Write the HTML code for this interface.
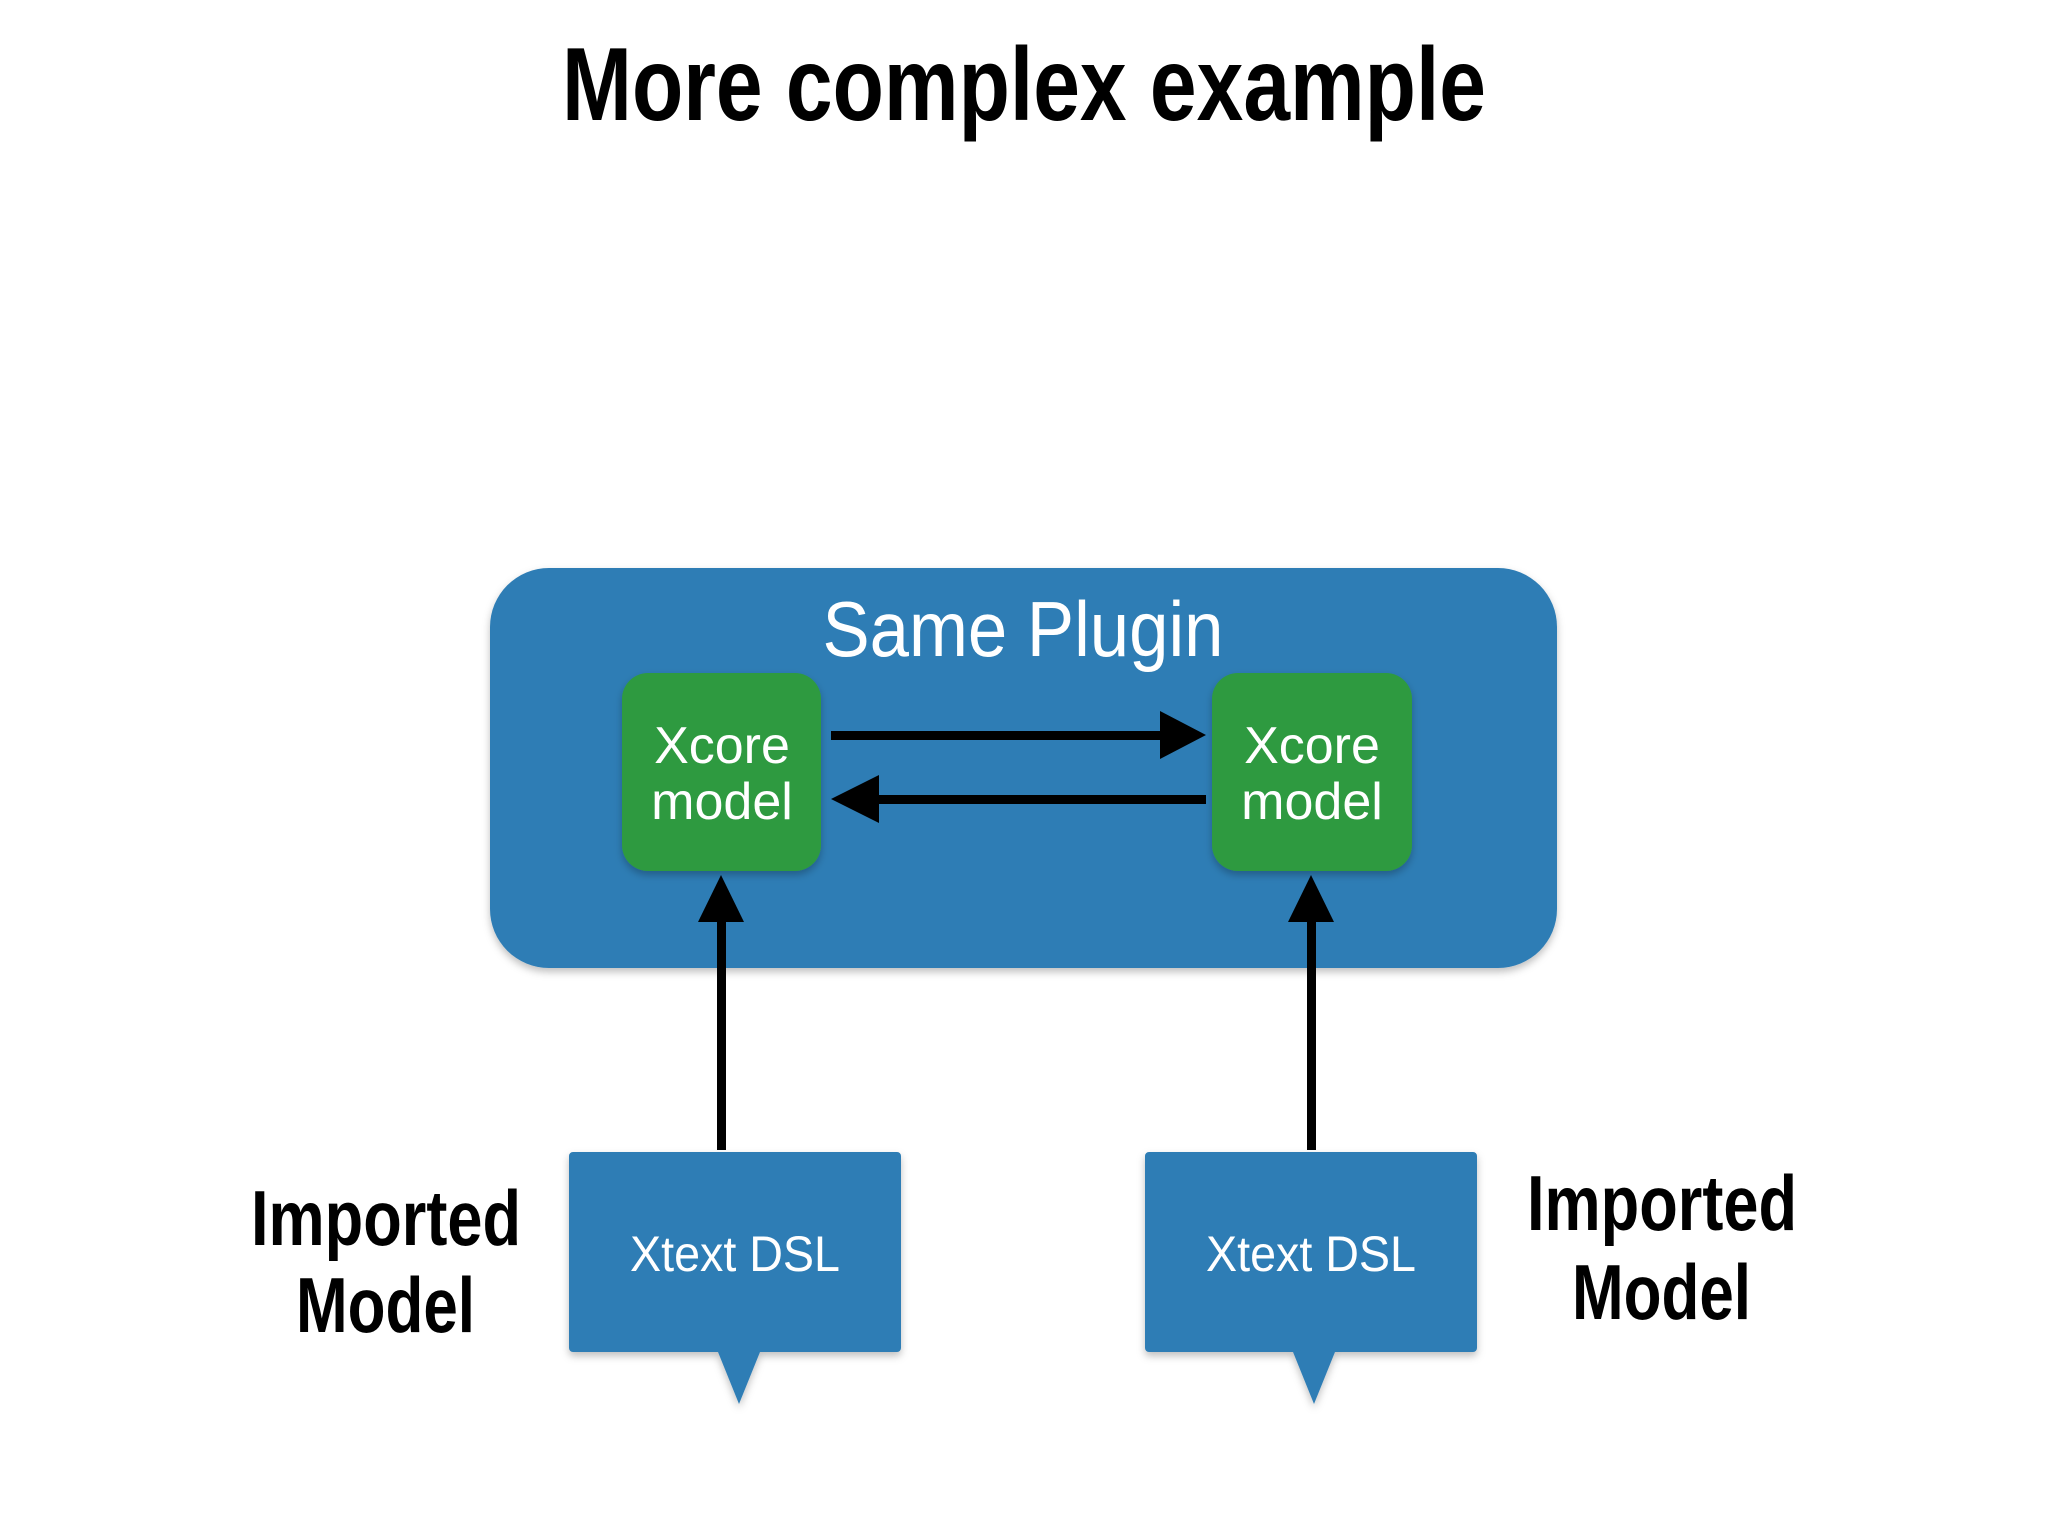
<!DOCTYPE html>
<html><head><meta charset="utf-8"><style>
html,body{margin:0;padding:0;background:#fff;}
svg{display:block;}
.imp{font-family:"Liberation Sans Narrow","Liberation Sans",sans-serif;font-weight:bold;fill:#000;}
.lt{font-family:"Liberation Sans",sans-serif;fill:#fff;}
</style></head><body>
<svg width="2048" height="1536" viewBox="0 0 2048 1536" xmlns="http://www.w3.org/2000/svg">
<defs>
<filter id="sh" x="-10%" y="-10%" width="120%" height="130%"><feDropShadow dx="0" dy="4" stdDeviation="4" flood-color="#000" flood-opacity="0.25"/></filter>
</defs>
<text class="imp" x="562" y="120" font-size="104" textLength="924" lengthAdjust="spacingAndGlyphs">More complex example</text>

<rect x="490" y="568" width="1067" height="400" rx="59" fill="#2e7db5" filter="url(#sh)"/>
<text class="lt" x="1023" y="656" font-size="78" text-anchor="middle" textLength="401" lengthAdjust="spacingAndGlyphs">Same Plugin</text>

<rect x="622" y="673" width="199" height="198" rx="26" fill="#2f9a3f" filter="url(#sh)"/>
<rect x="1212" y="673" width="200" height="198" rx="26" fill="#2f9a3f" filter="url(#sh)"/>
<g class="lt" font-size="52" text-anchor="middle">
<text x="722" y="763">Xcore</text><text x="722" y="819">model</text>
<text x="1312" y="763">Xcore</text><text x="1312" y="819">model</text>
</g>

<!-- horizontal arrows -->
<rect x="831" y="731" width="332" height="9" fill="#000"/>
<polygon points="1160,711 1206,735 1160,759" fill="#000"/>
<rect x="876" y="795" width="330" height="9" fill="#000"/>
<polygon points="879,775 831,799 879,823" fill="#000"/>

<!-- vertical arrows -->
<rect x="717" y="918" width="9" height="232" fill="#000"/>
<polygon points="698,922 721,875 744,922" fill="#000"/>
<rect x="1307" y="918" width="9" height="232" fill="#000"/>
<polygon points="1288,922 1311,875 1334,922" fill="#000"/>

<!-- Xtext boxes -->
<g fill="#2e7db5" filter="url(#sh)">
<path d="M573,1152 H897 a4,4 0 0 1 4,4 V1348 a4,4 0 0 1 -4,4 H760 L739,1404 L718,1352 H573 a4,4 0 0 1 -4,-4 V1156 a4,4 0 0 1 4,-4 Z"/>
<path d="M1149,1152 H1473 a4,4 0 0 1 4,4 V1348 a4,4 0 0 1 -4,4 H1335 L1314,1404 L1293,1352 H1149 a4,4 0 0 1 -4,-4 V1156 a4,4 0 0 1 4,-4 Z"/>
</g>
<g class="lt" font-size="50" text-anchor="middle">
<text x="735" y="1271" textLength="210" lengthAdjust="spacingAndGlyphs">Xtext DSL</text>
<text x="1311" y="1271" textLength="210" lengthAdjust="spacingAndGlyphs">Xtext DSL</text>
</g>

<g font-size="78">
<text class="imp" x="251" y="1245" textLength="270" lengthAdjust="spacingAndGlyphs">Imported</text>
<text class="imp" x="296" y="1332" textLength="179" lengthAdjust="spacingAndGlyphs">Model</text>
<text class="imp" x="1527" y="1230" textLength="270" lengthAdjust="spacingAndGlyphs">Imported</text>
<text class="imp" x="1572" y="1319" textLength="179" lengthAdjust="spacingAndGlyphs">Model</text>
</g>
</svg>
</body></html>
